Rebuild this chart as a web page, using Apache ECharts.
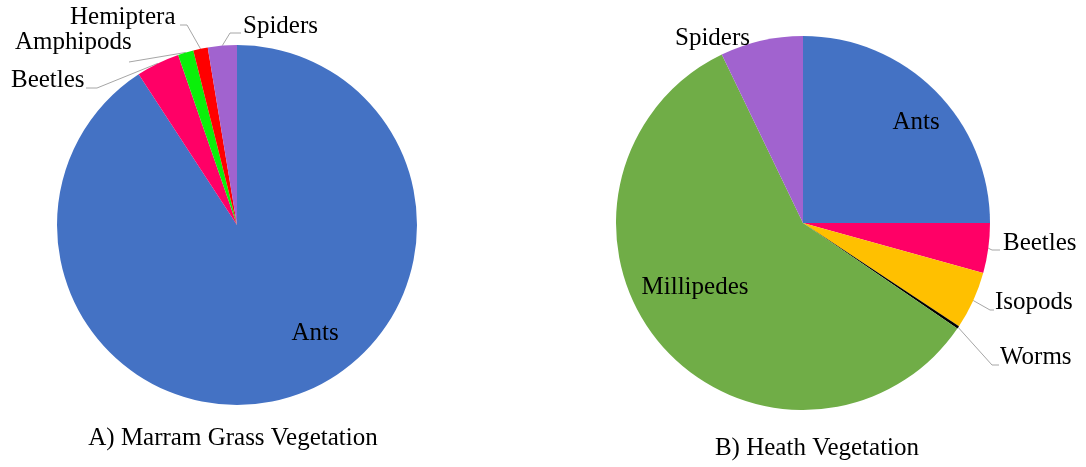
<!DOCTYPE html>
<html>
<head>
<meta charset="utf-8">
<script src="https://cdn.jsdelivr.net/npm/echarts@6/dist/echarts.min.js"></script>
<style>
  html, body { margin: 0; padding: 0; background: #fff; }
  #chart { width: 1086px; height: 467px; }
</style>
</head>
<body>
<div id="chart"></div>
<script>
// Share of individuals per taxon (%), listed clockwise from 12 o'clock
const marramGroups = ['Ants', 'Beetles', 'Amphipods', 'Hemiptera', 'Spiders'];
const marramShares = [90.8, 3.9, 1.4, 1.3, 2.6];

const heathGroups = ['Ants', 'Beetles', 'Isopods', 'Worms', 'Millipedes', 'Spiders'];
const heathShares = [25.0, 4.3, 5.0, 0.25, 58.3, 7.15];

const panelTitles = ['A) Marram Grass Vegetation', 'B) Heath Vegetation'];

// Styling
const taxonColors = {
  Ants: '#4472C4',
  Beetles: '#FF0066',
  Amphipods: '#0AF00A',
  Hemiptera: '#FF0000',
  Spiders: '#A163CF',
  Isopods: '#FFC000',
  Worms: '#000000',
  Millipedes: '#70AD47'
};
const FONT = '"Liberation Serif", "Times New Roman", Times, "DejaVu Serif", serif';
const FONT_SIZE = 25;
const LEADER = '#A6A6A6';

// Where each label sits; `line` holds the leader-line bend/end points
// (the start point on the slice edge comes from the pie layout itself)
const marramLabelPlacement = {
  Ants:      { x: 315, y: 333, align: 'center', inside: true },
  Beetles:   { x: 11,  y: 80,  line: [[97, 88], [86, 88]] },
  Amphipods: { x: 15,  y: 42,  line: [[129, 62]] },
  Hemiptera: { x: 70,  y: 17,  line: [[187, 25], [180, 25]] },
  Spiders:   { x: 243, y: 26,  line: [[230, 33], [241, 33]] }
};
const heathLabelPlacement = {
  Ants:       { x: 916,  y: 122, align: 'center', inside: true },
  Beetles:    { x: 1003, y: 243, line: [[992, 250], [1000, 250]] },
  Isopods:    { x: 995,  y: 302, line: [[990, 310], [994, 310]] },
  Worms:      { x: 1000, y: 357, line: [[992, 365], [999, 365]] },
  Millipedes: { x: 695,  y: 287, align: 'center', inside: true },
  Spiders:    { x: 675,  y: 38,  inside: true }
};

function buildData(groups, shares, placement) {
  return groups.map((name, i) => ({
    name: name,
    value: shares[i],
    itemStyle: { color: taxonColors[name] },
    label: { position: placement[name].inside ? 'inside' : 'outside' },
    labelLine: { show: !!placement[name].line }
  }));
}

function makeLayout(groups, placement) {
  return function (p) {
    const pl = placement[groups[p.dataIndex]];
    const out = { x: pl.x, y: pl.y, align: pl.align || 'left', verticalAlign: 'middle' };
    if (pl.line && p.labelLinePoints) {
      out.labelLinePoints = [p.labelLinePoints[0]].concat(pl.line);
    }
    return out;
  };
}

function pieSeries(groups, shares, placement, center, radius) {
  return {
    type: 'pie',
    center: center,
    radius: radius,
    startAngle: 90,
    clockwise: true,
    avoidLabelOverlap: false,
    silent: true,
    itemStyle: { borderWidth: 0 },
    label: {
      show: true,
      formatter: '{b}',
      fontFamily: FONT,
      fontSize: FONT_SIZE,
      color: '#000'
    },
    labelLine: {
      lineStyle: { color: LEADER, width: 1 },
      smooth: false
    },
    labelLayout: makeLayout(groups, placement),
    data: buildData(groups, shares, placement)
  };
}

const chart = echarts.init(document.getElementById('chart'), null, { renderer: 'canvas' });
chart.setOption({
  backgroundColor: '#fff',
  animation: false,
  series: [
    pieSeries(marramGroups, marramShares, marramLabelPlacement, [237, 225], 180),
    pieSeries(heathGroups, heathShares, heathLabelPlacement, [803, 223], 187)
  ],
  graphic: [
    { type: 'text', x: 233, y: 438, style: { text: panelTitles[0], fontFamily: FONT, fontSize: FONT_SIZE, fill: '#000', textAlign: 'center', textVerticalAlign: 'middle' } },
    { type: 'text', x: 817, y: 448, style: { text: panelTitles[1], fontFamily: FONT, fontSize: FONT_SIZE, fill: '#000', textAlign: 'center', textVerticalAlign: 'middle' } }
  ]
});
</script>
</body>
</html>
